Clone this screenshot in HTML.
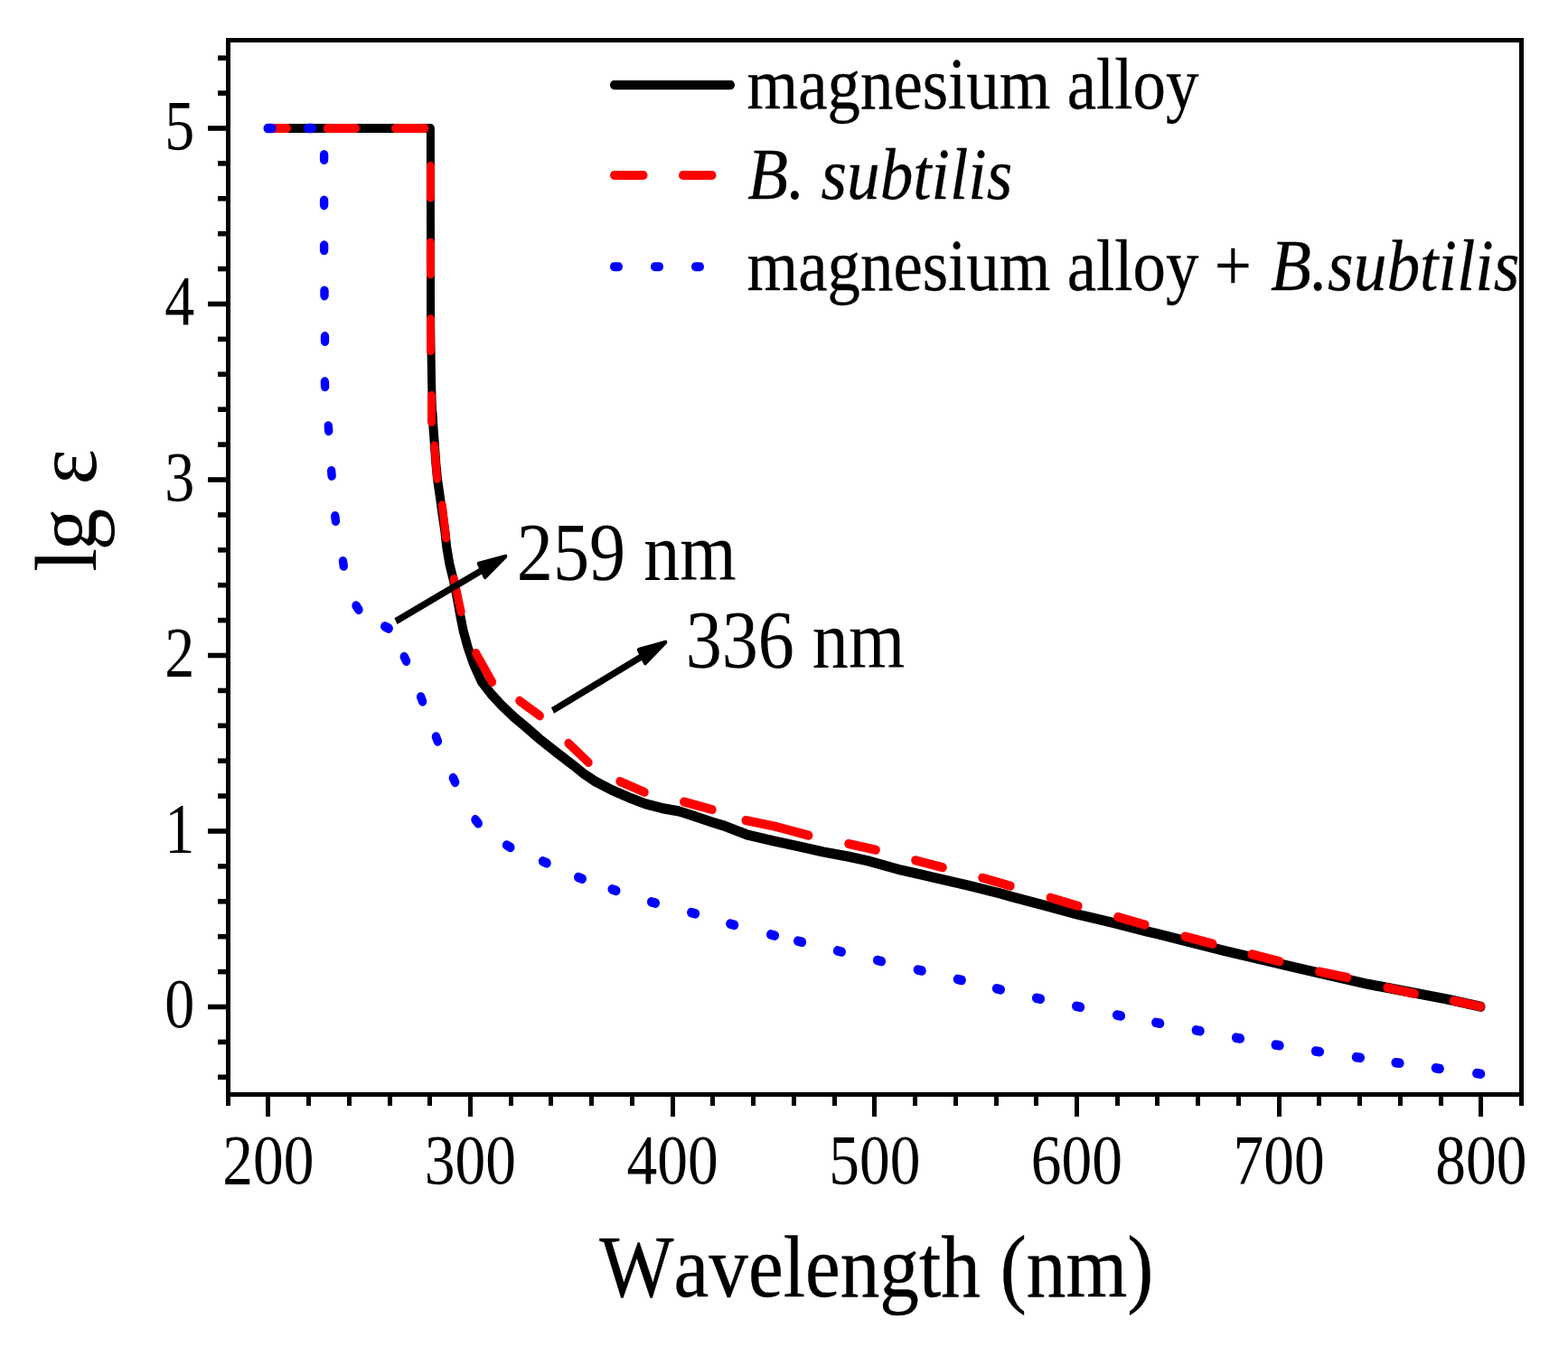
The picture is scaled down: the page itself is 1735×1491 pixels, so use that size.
<!DOCTYPE html>
<html lang="en"><head><meta charset="utf-8"><title>lg ε vs Wavelength (nm)</title>
<style>html,body{margin:0;padding:0;background:#fff;width:1735px;height:1491px;overflow:hidden}svg{display:block}text{font-family:"Liberation Serif","DejaVu Serif",serif;fill:#000;font-kerning:none;font-variant-ligatures:none}</style>
</head><body>
<svg width="1735" height="1491" viewBox="0 0 1735 1491">
<rect x="0" y="0" width="1735" height="1491" fill="#fff"/>
<g transform="scale(1,1.126)" fill="none" stroke-linecap="round" stroke-linejoin="round" stroke-width="9">
<polyline points="297,126.11 476.4,126.11 476.5,310.83 477.5,373 478.5,405.86" stroke="#000"/>
<polyline points="478.5,405.86 479.6,422.29 481,438.72 482.3,455.15 484.1,471.58 486.8,488.1 489.4,504.88 492.2,521.31 494.2,537.74 497.3,554.17 501.9,570.6 505.6,587.03 509,603.91 512.7,620.34 517.8,636.77 524.2,653.2 532.6,669.63 543.2,681.97 554.8,693.16 568.7,704.97 582.5,715.19 597,726.47 615.5,739.52 634,752.04 646,760.66 658.5,768.12 677,776.64 695.5,783.84 714,790.23 732.5,794.49 751,797.42 769.6,802.66 788.1,808.26 800,811.46 827.8,820.87 855.5,826.64 883.3,831.97 911,837.48 938.8,842.01 960,846.18 997,855.33 1034,862.7 1071,870.34 1108,878.6 1120,881.71 1157,890.32 1194,899.29 1231,906.93 1268,915.36 1280,917.94 1354,934.46 1440,952.58 1514,967.5 1600,982.06 1638.5,989.61" stroke="#000" stroke-width="10"/>
<path d="M296.5 126.11L317.4 126.11M362.2 126.11L393.6 126.11M437.5 126.11L470 126.11M476.4 163.2L476.4 194.17M476.4 238.51L476.4 269.48M476.4 313.83L476.5 344.79M477.5 389.05L477.5 414.68M480.8 438.37L483.6 470.43M489.4 496.71L493.6 528.69M502.4 569.45L510.2 601.42M526.6 642.1L544.6 670.52M574.8 688.9L597.4 703.64M628.9 730.64L651.2 749.56M685.9 768.21L713.2 778.77M756.6 788.19L788.1 795.91M825 806.48L860 812.88L894.9 821.31M938.8 829.48L969.3 835.44M1012.7 845.74L1043.3 852.75M1086.8 862.97L1118.1 870.96M1162.1 882.5L1193.1 890.67M1236.8 901.42L1267.1 909.15M1311 920.52L1342 927.89M1385 938.1L1416 945.12M1459.6 955.15L1490.9 960.92M1534.9 970.78L1565.4 976.91M1608.2 983.84L1638.5 989.61" stroke="#f00"/>
<path d="M296.2 126.11L301 126.11M340.6 126.11L345.4 126.11M358.6 152.13L358.6 156.93M358.6 196.89L358.6 201.69M358.59 241.21L358.61 246.01M358.98 285.7L359.02 290.5M359.49 330.73L359.51 335.53M359.39 375.31L359.61 380.11M363.3 418.75L363.7 423.53M366.69 462.88L367.11 467.67M370.75 507.39L371.45 512.14M379.52 551.71L380.28 556.46M394.04 595.52L396.96 599.33M425.81 615.8L430.19 617.77M447.25 645.67L449.55 649.88M465.62 685.11L467.58 689.49M482.41 724.28L484.39 728.65M501.35 764.77L503.65 768.98M525.97 805.79L529.23 809.31M560.58 830.76L564.82 833.01M600.57 846.63L605.03 848.39M639.74 862.34L644.26 863.95M677.2 874.18L681.8 875.55M720.68 886.61L725.32 887.81M764.77 897.03L769.43 898.18M807.87 908.13L812.53 909.28M852.66 918.66L857.34 919.71M882.75 925.07L887.45 926.08M926.55 934.66L931.25 935.67M970.65 944L975.35 944.99M1015.35 953.33L1020.05 954.31M1059.45 962.56L1064.15 963.55M1102.55 971.79L1107.25 972.79M1146.64 981.07L1151.36 981.99M1190.74 989.17L1195.46 990.05M1235.64 997.8L1240.36 998.65M1278.83 1005.19L1283.57 1006M1323.33 1012.75L1328.07 1013.54M1367.63 1020.13L1372.37 1020.9M1411.23 1027.09L1415.97 1027.79M1455.62 1033.25L1460.38 1033.89M1500.52 1039.22L1505.28 1039.82M1544.12 1044.56L1548.88 1045.14M1588.42 1049.99L1593.18 1050.55M1633.82 1055.15L1638.58 1055.69" stroke="#00f" stroke-width="9.4"/>
<path d="M679.5 83.57H808.5" stroke="#000"/>
<path d="M679.5 172.29H712M755.5 172.29H788" stroke="#f00"/>
<path d="M679.5 262.17H684.5M724.5 262.17H729.5M769.5 262.17H774.5" stroke="#00f"/>
</g>
<g transform="scale(1,1.126)" stroke="#000" fill="#000" stroke-linejoin="round">
<line x1="438" y1="610.66" x2="535.87" y2="559.26" stroke-width="6.7"/>
<polygon points="559.33,546.93 536.7,567.29 529.73,554.01" stroke-width="4"/>
<line x1="611.5" y1="698.49" x2="713" y2="643.88" stroke-width="6.7"/>
<polygon points="736.34,631.32 713.91,651.9 706.81,638.69" stroke-width="4"/>
</g>
<g fill="#000" shape-rendering="crispEdges">
<rect x="250" y="42" width="5" height="1182"/>
<rect x="1681" y="42" width="5" height="1182"/>
<rect x="250" y="42" width="1436" height="5"/>
<rect x="250" y="1209" width="1436" height="5"/>
<rect x="294" y="1214" width="5" height="22"/>
<rect x="339" y="1214" width="5" height="10"/>
<rect x="384" y="1214" width="5" height="10"/>
<rect x="429" y="1214" width="5" height="10"/>
<rect x="473" y="1214" width="5" height="10"/>
<rect x="518" y="1214" width="5" height="22"/>
<rect x="563" y="1214" width="5" height="10"/>
<rect x="607" y="1214" width="5" height="10"/>
<rect x="652" y="1214" width="5" height="10"/>
<rect x="697" y="1214" width="5" height="10"/>
<rect x="742" y="1214" width="5" height="22"/>
<rect x="786" y="1214" width="5" height="10"/>
<rect x="831" y="1214" width="5" height="10"/>
<rect x="876" y="1214" width="5" height="10"/>
<rect x="921" y="1214" width="5" height="10"/>
<rect x="965" y="1214" width="5" height="22"/>
<rect x="1010" y="1214" width="5" height="10"/>
<rect x="1055" y="1214" width="5" height="10"/>
<rect x="1100" y="1214" width="5" height="10"/>
<rect x="1144" y="1214" width="5" height="10"/>
<rect x="1189" y="1214" width="5" height="22"/>
<rect x="1234" y="1214" width="5" height="10"/>
<rect x="1278" y="1214" width="5" height="10"/>
<rect x="1323" y="1214" width="5" height="10"/>
<rect x="1368" y="1214" width="5" height="10"/>
<rect x="1413" y="1214" width="5" height="22"/>
<rect x="1457" y="1214" width="5" height="10"/>
<rect x="1502" y="1214" width="5" height="10"/>
<rect x="1547" y="1214" width="5" height="10"/>
<rect x="1592" y="1214" width="5" height="10"/>
<rect x="1636" y="1214" width="5" height="22"/>
</g>
<g fill="#000">
<rect x="241" y="1189.5" width="9.5" height="5.6"/>
<rect x="241" y="1150.6" width="9.5" height="5.6"/>
<rect x="230" y="1111.7" width="20.5" height="5.6"/>
<rect x="241" y="1072.8" width="9.5" height="5.6"/>
<rect x="241" y="1033.9" width="9.5" height="5.6"/>
<rect x="241" y="995" width="9.5" height="5.6"/>
<rect x="241" y="956.1" width="9.5" height="5.6"/>
<rect x="230" y="917.2" width="20.5" height="5.6"/>
<rect x="241" y="878.3" width="9.5" height="5.6"/>
<rect x="241" y="839.4" width="9.5" height="5.6"/>
<rect x="241" y="800.5" width="9.5" height="5.6"/>
<rect x="241" y="761.6" width="9.5" height="5.6"/>
<rect x="230" y="722.7" width="20.5" height="5.6"/>
<rect x="241" y="683.8" width="9.5" height="5.6"/>
<rect x="241" y="644.9" width="9.5" height="5.6"/>
<rect x="241" y="606" width="9.5" height="5.6"/>
<rect x="241" y="567.1" width="9.5" height="5.6"/>
<rect x="230" y="528.2" width="20.5" height="5.6"/>
<rect x="241" y="489.3" width="9.5" height="5.6"/>
<rect x="241" y="450.4" width="9.5" height="5.6"/>
<rect x="241" y="411.5" width="9.5" height="5.6"/>
<rect x="241" y="372.6" width="9.5" height="5.6"/>
<rect x="230" y="333.7" width="20.5" height="5.6"/>
<rect x="241" y="294.8" width="9.5" height="5.6"/>
<rect x="241" y="255.9" width="9.5" height="5.6"/>
<rect x="241" y="217" width="9.5" height="5.6"/>
<rect x="241" y="178.1" width="9.5" height="5.6"/>
<rect x="230" y="139.2" width="20.5" height="5.6"/>
<rect x="241" y="100.3" width="9.5" height="5.6"/>
<rect x="241" y="61.4" width="9.5" height="5.6"/>
</g>
<g font-size="100">
<text transform="translate(296.8,1310.4) scale(0.6750,0.7890)" text-anchor="middle">200</text>
<text transform="translate(520.47,1310.4) scale(0.6750,0.7890)" text-anchor="middle">300</text>
<text transform="translate(744.13,1310.4) scale(0.6750,0.7890)" text-anchor="middle">400</text>
<text transform="translate(967.8,1310.4) scale(0.6750,0.7890)" text-anchor="middle">500</text>
<text transform="translate(1191.47,1310.4) scale(0.6750,0.7890)" text-anchor="middle">600</text>
<text transform="translate(1415.13,1310.4) scale(0.6750,0.7890)" text-anchor="middle">700</text>
<text transform="translate(1638.8,1310.4) scale(0.6750,0.7890)" text-anchor="middle">800</text>
<text transform="translate(215.2,1137.1) scale(0.6600,0.7890)" text-anchor="end">0</text>
<text transform="translate(215.2,942.6) scale(0.6600,0.7890)" text-anchor="end">1</text>
<text transform="translate(215.2,748.1) scale(0.6600,0.7890)" text-anchor="end">2</text>
<text transform="translate(215.2,553.6) scale(0.6600,0.7890)" text-anchor="end">3</text>
<text transform="translate(215.2,359.1) scale(0.6600,0.7890)" text-anchor="end">4</text>
<text transform="translate(215.2,164.6) scale(0.6600,0.7890)" text-anchor="end">5</text>
<text transform="translate(826.5,120.1) scale(0.7288,0.8120)" text-anchor="start" stroke="#000" stroke-width="0.4" stroke-linejoin="round">magnesium alloy</text>
<text transform="translate(827.3,219.9) scale(0.7320,0.8120)" text-anchor="start" font-style="italic" stroke="#000" stroke-width="0.4" stroke-linejoin="round">B. subtilis</text>
<text transform="translate(826.5,321.2) scale(0.7288,0.8120)" text-anchor="start" stroke="#000" stroke-width="0.4" stroke-linejoin="round">magnesium alloy<tspan x="684.6"> + </tspan><tspan x="795.0" font-style="italic" textLength="377.9" lengthAdjust="spacingAndGlyphs">B.subtilis</tspan></text>
<text transform="translate(571.8,642.2) scale(0.8027,0.9120)" text-anchor="start">259 nm</text>
<text transform="translate(758.7,739) scale(0.8010,0.9120)" text-anchor="start">336 nm</text>
<text transform="translate(663.2,1435.3) scale(0.8730,0.9780)" text-anchor="start" stroke="#000" stroke-width="0.4" stroke-linejoin="round">Wavelength (nm)</text>
<text transform="translate(106.1,633) rotate(-90) scale(0.9380,0.9810)" text-anchor="start">l<tspan dx="-2.7">g</tspan><tspan dx="2.7"> ε</tspan></text>
</g>
</svg>
</body></html>
